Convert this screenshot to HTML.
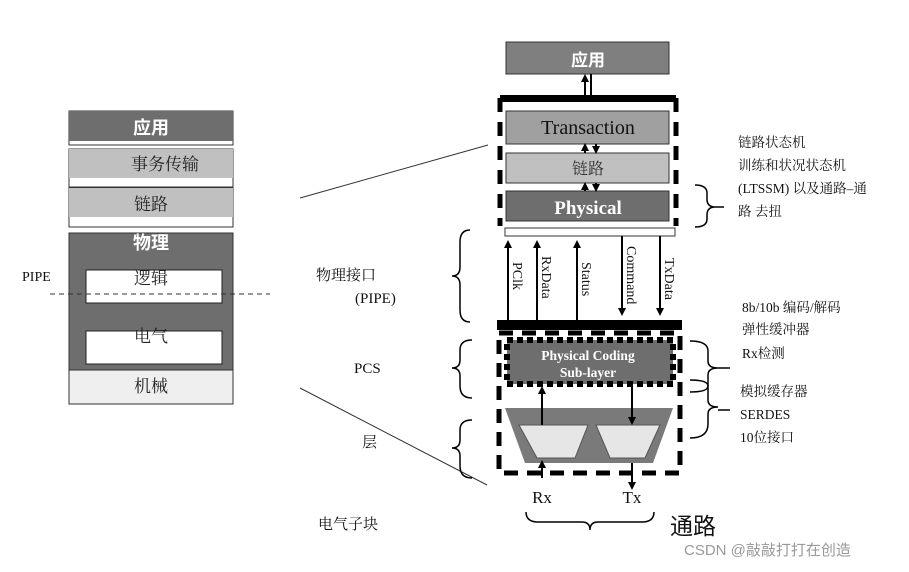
<!DOCTYPE html>
<html><head><meta charset="utf-8"><style>
html,body{margin:0;padding:0;background:#fff;}
svg text{font-family:"Liberation Serif","Noto Serif CJK SC","Noto Sans CJK SC",serif;}
svg text.s{font-family:"Liberation Sans","Noto Sans CJK SC",sans-serif;}
</style></head><body>
<svg width="909" height="567" viewBox="0 0 909 567" xmlns="http://www.w3.org/2000/svg">
<defs>
<marker id="ah" markerWidth="8" markerHeight="8" refX="4" refY="4" orient="auto" markerUnits="userSpaceOnUse"><path d="M0,0 L8,4 L0,8 z" fill="#000"/></marker>
</defs>
<!-- Left stack -->
<rect x="69" y="111" width="164" height="34" fill="#fff" stroke="#333"/>
<rect x="69" y="111" width="164" height="30" fill="#6e6e6e"/>
<text class="s" x="151" y="134" font-size="18" fill="#fff" text-anchor="middle" font-weight="bold">应用</text>
<rect x="69" y="149" width="164" height="38" fill="#fff" stroke="#333"/>
<rect x="69" y="149" width="164" height="29" fill="#c0c0c0"/>
<text x="165" y="170" font-size="17" fill="#222" text-anchor="middle">事务传输</text>
<rect x="69" y="188" width="164" height="39" fill="#fff" stroke="#333"/>
<rect x="69" y="188" width="164" height="29" fill="#c0c0c0"/>
<text x="151" y="210" font-size="17" fill="#222" text-anchor="middle">链路</text>
<rect x="69" y="233" width="164" height="137" fill="#6e6e6e" stroke="#333"/>
<text class="s" x="151" y="249" font-size="18" fill="#fff" text-anchor="middle" font-weight="bold">物理</text>
<rect x="86" y="270" width="136" height="33" fill="#fff" stroke="#222"/>
<text x="151" y="284" font-size="17" fill="#222" text-anchor="middle">逻辑</text>
<rect x="86" y="331" width="136" height="33" fill="#fff" stroke="#222"/>
<text x="151" y="342" font-size="17" fill="#222" text-anchor="middle">电气</text>
<rect x="69" y="370" width="164" height="34" fill="#efefef" stroke="#333"/>
<text x="151" y="392" font-size="17" fill="#222" text-anchor="middle">机械</text>
<text x="22" y="281" font-size="14" fill="#111">PIPE</text>
<line x1="50" y1="294" x2="270" y2="294" stroke="#333" stroke-dasharray="5,4"/>
<!-- diagonals -->
<line x1="300" y1="198" x2="488" y2="145" stroke="#333"/>
<line x1="300" y1="388" x2="487" y2="485" stroke="#333"/>
<!-- Right stack -->
<rect x="506" y="42" width="163" height="32" fill="#7f7f7f" stroke="#333"/>
<text class="s" x="588" y="66" font-size="17" fill="#fff" text-anchor="middle" font-weight="bold">应用</text>
<line x1="585" y1="100" x2="585" y2="78" stroke="#000" stroke-width="2" marker-end="url(#ah)"/>
<line x1="591" y1="74" x2="591" y2="100" stroke="#000" stroke-width="2"/>
<line x1="500" y1="98" x2="500" y2="226" stroke="#000" stroke-width="5" stroke-dasharray="14,10"/>
<line x1="676" y1="98" x2="676" y2="226" stroke="#000" stroke-width="5" stroke-dasharray="14,10"/>
<rect x="500" y="95" width="176" height="7" fill="#000"/>
<rect x="506" y="111" width="163" height="33" fill="#a0a0a0" stroke="#333"/>
<text x="588" y="134" font-size="20" fill="#111" text-anchor="middle">Transaction</text>
<rect x="506" y="153" width="163" height="30" fill="#c0c0c0" stroke="#333"/>
<text x="588" y="174" font-size="16" fill="#333" text-anchor="middle">链路</text>
<rect x="506" y="191" width="163" height="30" fill="#6e6e6e" stroke="#333"/>
<text x="588" y="214" font-size="19" fill="#fff" text-anchor="middle" font-weight="bold">Physical</text>
<line x1="585" y1="153" x2="585" y2="147" stroke="#000" stroke-width="2" marker-end="url(#ah)"/>
<line x1="596" y1="144" x2="596" y2="150" stroke="#000" stroke-width="2" marker-end="url(#ah)"/>
<line x1="585" y1="191" x2="585" y2="186" stroke="#000" stroke-width="2" marker-end="url(#ah)"/>
<line x1="596" y1="183" x2="596" y2="188" stroke="#000" stroke-width="2" marker-end="url(#ah)"/>
<rect x="505" y="228" width="170" height="8" fill="#fff" stroke="#333"/>
<g stroke="#000" stroke-width="2">
<line x1="508" y1="321" x2="508" y2="244" marker-end="url(#ah)"/>
<line x1="537" y1="321" x2="537" y2="244" marker-end="url(#ah)"/>
<line x1="577" y1="321" x2="577" y2="244" marker-end="url(#ah)"/>
<line x1="622" y1="236" x2="622" y2="312" marker-end="url(#ah)"/>
<line x1="660" y1="236" x2="660" y2="312" marker-end="url(#ah)"/>
</g>
<g font-size="14" fill="#111">
<text transform="translate(513,262) rotate(90)">PClk</text>
<text transform="translate(542,256) rotate(90)">RxData</text>
<text transform="translate(582,262) rotate(90)">Status</text>
<text transform="translate(627,246) rotate(90)">Command</text>
<text transform="translate(665,258) rotate(90)">TxData</text>
</g>
<rect x="497" y="320" width="185" height="10" fill="#000"/>
<rect x="499" y="333" width="181" height="140" fill="none" stroke="#000" stroke-width="5" stroke-dasharray="14,9"/>
<rect x="507" y="340" width="166" height="44" fill="#6e6e6e" stroke="#000" stroke-width="6" stroke-dasharray="6,4"/>
<text x="588" y="360" font-size="13.5" fill="#fff" text-anchor="middle" font-weight="bold">Physical Coding</text>
<text x="588" y="377" font-size="13.5" fill="#fff" text-anchor="middle" font-weight="bold">Sub-layer</text>
<polygon points="505,408 673,408 653,463 525,463" fill="#7a7a7a"/>
<polygon points="519,425 588,425 575,458 537,458" fill="#e6e6e6" stroke="#555"/>
<polygon points="596,425 660,425 645,458 610,458" fill="#e6e6e6" stroke="#555"/>
<g stroke="#000" stroke-width="2">
<line x1="542" y1="425" x2="542" y2="390" marker-end="url(#ah)"/>
<line x1="632" y1="385" x2="632" y2="421" marker-end="url(#ah)"/>
<line x1="542" y1="478" x2="542" y2="464" marker-end="url(#ah)"/>
<line x1="632" y1="463" x2="632" y2="486" marker-end="url(#ah)"/>
</g>
<text x="542" y="503" font-size="17" fill="#111" text-anchor="middle">Rx</text>
<text x="632" y="503" font-size="17" fill="#111" text-anchor="middle">Tx</text>
<path d="M526,512 q0,10 12,10 h44 q8,0 8,8 q0,-8 8,-8 h44 q12,0 12,-10" fill="none" stroke="#000" stroke-width="1.5"/>
<text class="s" x="670" y="534" font-size="23" fill="#111">通路</text>
<!-- left labels -->
<g font-size="15" fill="#111">
<text x="316" y="280">物理接口</text>
<text x="355" y="303">(PIPE)</text>
<text x="354" y="373">PCS</text>
<text x="362" y="447">层</text>
<text x="318" y="529">电气子块</text>
</g>
<g fill="none" stroke="#000" stroke-width="1.5">
<path d="M470,230 q-10,0 -10,12 v25 q0,9 -8,9 q8,0 8,9 v25 q0,12 10,12"/>
<path d="M472,340 q-12,0 -12,10 v10 q0,8 -8,8 q8,0 8,8 v10 q0,12 12,12"/>
<path d="M472,420 q-12,0 -12,10 v10 q0,8 -8,8 q8,0 8,8 v10 q0,12 12,12"/>
<path d="M695,185 q12,0 12,8 v6 q0,8 8,8 q-8,0 -8,8 v4 q0,8 -12,8"/>
<line x1="715" y1="207" x2="724" y2="207"/>
<path d="M690,341 q18,0 18,10 v10 q0,7 10,7 q-10,0 -10,7 v25 q0,7 10,7 q-10,0 -10,7 v10 q0,14 -18,14"/>
<line x1="718" y1="368" x2="730" y2="368"/>
<line x1="718" y1="410" x2="730" y2="410"/>
<path d="M690,380 q18,0 18,6 q0,6 -18,6"/>
</g>
<!-- right text -->
<g font-size="13.5" fill="#111">
<text x="738" y="147">链路状态机</text>
<text x="738" y="170">训练和状况状态机</text>
<text x="738" y="193">(LTSSM) 以及通路–通</text>
<text x="738" y="216">路 去扭</text>
<text x="742" y="312">8b/10b  编码/解码</text>
<text x="742" y="334">弹性缓冲器</text>
<text x="742" y="358">Rx检测</text>
<text x="740" y="396">模拟缓存器</text>
<text x="740" y="419">SERDES</text>
<text x="740" y="442">10位接口</text>
</g>
<text class="s" x="684" y="555" font-size="15" fill="#999">CSDN @敲敲打打在创造</text>
</svg>
</body></html>
